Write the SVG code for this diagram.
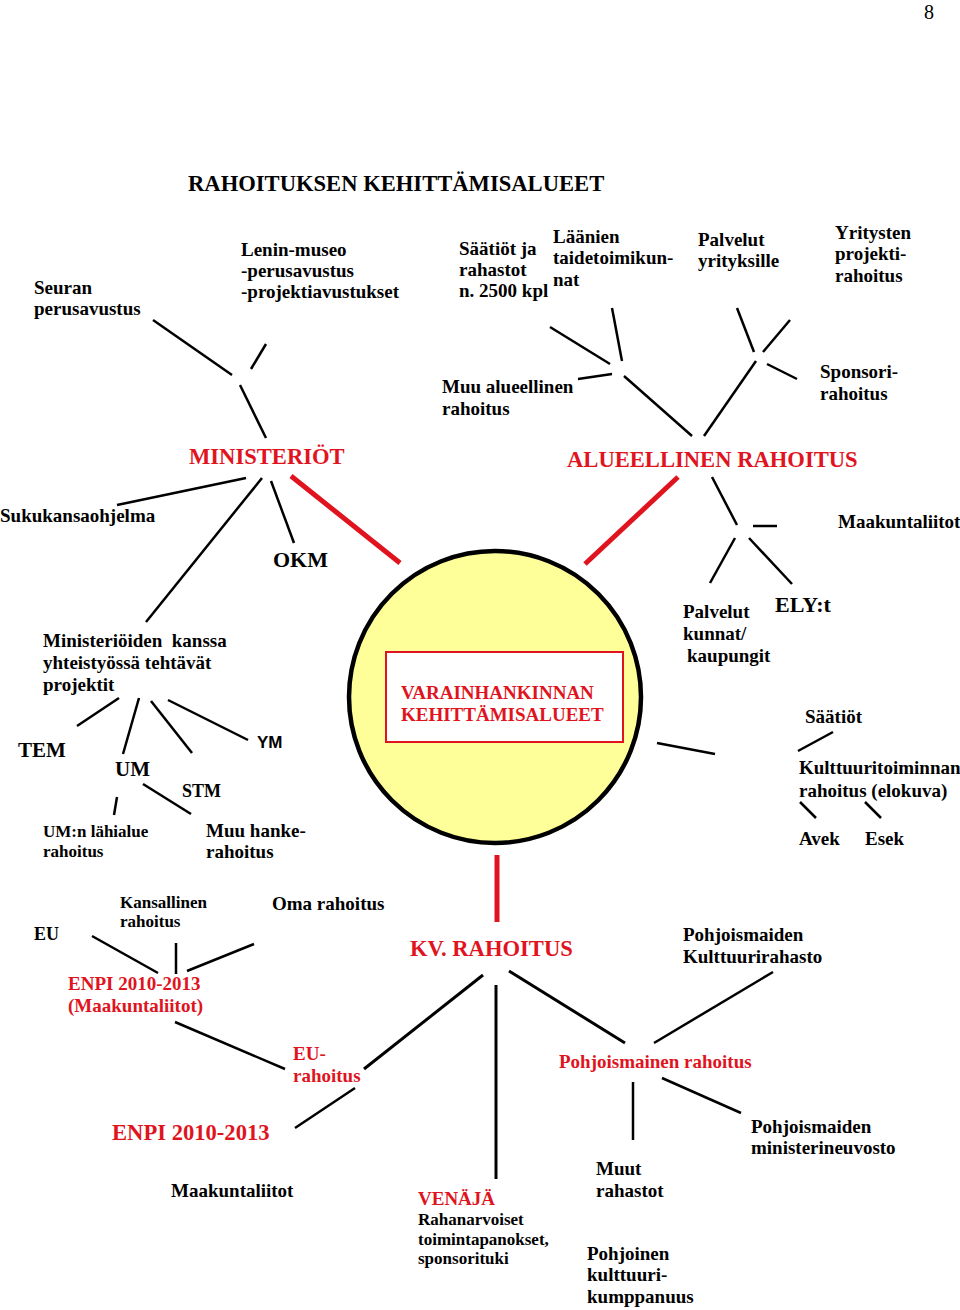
<svg xmlns="http://www.w3.org/2000/svg" width="960" height="1310" viewBox="0 0 960 1310">
<style>
text{font-family:"Liberation Serif","Times New Roman",serif;font-weight:bold;font-size:19px;fill:#000}
.red{fill:#e0141e}
.h{font-size:22.6px}
.s17{font-size:17px}
.s18{font-size:18px}
.s21{font-size:21px}
.s22{font-size:22px}
.sans{font-family:"Liberation Sans",Arial,sans-serif;font-size:17px}
.num{font-weight:normal;font-size:20px}
.ln{stroke:#000;stroke-width:2.5;fill:none}
.lk{stroke:#000;stroke-width:3;fill:none}
.rl{stroke:#e0141e;stroke-width:5;fill:none}
</style>
<rect width="960" height="1310" fill="#fff"/>
<text class="num" x="924" y="19">8</text>
<text id="title" class="h" x="188" y="191">RAHOITUKSEN KEHITTÄMISALUEET</text>

<g id="connectors">
  <line class="ln" x1="153" y1="320" x2="232" y2="375"/>
  <line class="ln" x1="266" y1="344" x2="251" y2="369"/>
  <line class="ln" x1="240" y1="385" x2="266" y2="438"/>
  <line class="ln" x1="117" y1="505" x2="246" y2="478"/>
  <line class="ln" x1="262" y1="478" x2="146" y2="622"/>
  <line class="ln" x1="271" y1="481" x2="294" y2="543"/>
  <line class="rl" x1="291" y1="476" x2="400" y2="563"/>
  <line class="ln" x1="550" y1="327" x2="610" y2="364"/>
  <line class="ln" x1="612" y1="308" x2="622" y2="361"/>
  <line class="ln" x1="578" y1="379" x2="612" y2="374"/>
  <line class="ln" x1="624" y1="376" x2="692" y2="436"/>
  <line class="ln" x1="737" y1="308" x2="754" y2="352"/>
  <line class="ln" x1="790" y1="320" x2="763" y2="352"/>
  <line class="ln" x1="767" y1="364" x2="797" y2="379"/>
  <line class="ln" x1="756" y1="361" x2="704" y2="436"/>
  <line class="rl" x1="678" y1="477" x2="585" y2="564"/>
  <line class="ln" x1="712" y1="477" x2="737" y2="525"/>
  <line class="ln" x1="753" y1="526" x2="777" y2="526"/>
  <line class="ln" x1="735" y1="538" x2="710" y2="583"/>
  <line class="ln" x1="749" y1="538" x2="792" y2="584"/>
  <line class="ln" x1="119" y1="698" x2="77" y2="726"/>
  <line class="ln" x1="139" y1="698" x2="123" y2="754"/>
  <line class="ln" x1="151" y1="701" x2="192" y2="753"/>
  <line class="ln" x1="168" y1="700" x2="248" y2="740"/>
  <line class="ln" x1="117" y1="797" x2="114" y2="815"/>
  <line class="ln" x1="143" y1="784" x2="191" y2="814"/>
  <line class="ln" x1="657" y1="743" x2="715" y2="754"/>
  <line class="ln" x1="833" y1="732" x2="798" y2="751"/>
  <line class="ln" x1="800" y1="802" x2="816" y2="818"/>
  <line class="ln" x1="865" y1="802" x2="881" y2="818"/>
  <line class="rl" x1="497" y1="855" x2="497" y2="922"/>
  <line class="ln" x1="92" y1="936" x2="158" y2="973"/>
  <line class="ln" x1="176" y1="943" x2="176" y2="974"/>
  <line class="ln" x1="254" y1="944" x2="187" y2="971"/>
  <line class="ln" x1="175" y1="1022" x2="285" y2="1069"/>
  <line class="lk" x1="364" y1="1069" x2="483" y2="975"/>
  <line class="ln" x1="355" y1="1088" x2="295" y2="1128"/>
  <line class="lk" x1="496" y1="985" x2="496" y2="1179"/>
  <line class="lk" x1="509" y1="971" x2="625" y2="1043"/>
  <line class="ln" x1="773" y1="972" x2="654" y2="1043"/>
  <line class="ln" x1="633" y1="1082" x2="633" y2="1140"/>
  <line class="ln" x1="662" y1="1078" x2="741" y2="1113"/>
</g>

<g id="center">
  <circle cx="495" cy="697" r="146" fill="#ffff99" stroke="#000" stroke-width="4.5"/>
  <rect x="386" y="652" width="237" height="90" fill="#fff" stroke="#e0141e" stroke-width="2"/>
  <text class="red" x="401" y="699">VARAINHANKINNAN</text>
  <text class="red" x="401" y="721">KEHITTÄMISALUEET</text>
</g>

<g id="seuran"><text x="34" y="294">Seuran</text><text x="34" y="315">perusavustus</text></g>
<g id="lenin"><text x="241" y="256">Lenin-museo</text><text x="241" y="277">-perusavustus</text><text x="241" y="298">-projektiavustukset</text></g>
<g id="saatiot-rahastot"><text x="459" y="255">Säätiöt ja</text><text x="459" y="276">rahastot</text><text x="459" y="297">n. 2500 kpl</text></g>
<g id="laanien"><text x="553" y="243">Läänien</text><text x="553" y="264">taidetoimikun-</text><text x="553" y="286">nat</text></g>
<g id="palvelut-yrityksille"><text x="698" y="246">Palvelut</text><text x="698" y="267">yrityksille</text></g>
<g id="yritysten"><text x="835" y="239">Yritysten</text><text x="835" y="260">projekti-</text><text x="835" y="282">rahoitus</text></g>
<g id="muu-alueellinen"><text x="442" y="393">Muu alueellinen</text><text x="442" y="415">rahoitus</text></g>
<g id="sponsori"><text x="820" y="378">Sponsori-</text><text x="820" y="400">rahoitus</text></g>
<g id="ministeriot"><text class="red h" x="189" y="464">MINISTERIÖT</text></g>
<g id="alueellinen"><text class="red h" x="567" y="467">ALUEELLINEN RAHOITUS</text></g>
<g id="sukukansa"><text x="0" y="522">Sukukansaohjelma</text></g>
<g id="maakuntaliitot-top"><text x="838" y="528">Maakuntaliitot</text></g>
<g id="okm"><text class="s22" x="273" y="567">OKM</text></g>
<g id="yhteistyo"><text x="43" y="647" xml:space="preserve">Ministeriöiden  kanssa</text><text x="43" y="669">yhteistyössä tehtävät</text><text x="43" y="691">projektit</text></g>
<g id="tem"><text class="s21" x="18" y="757">TEM</text></g>
<g id="um"><text class="s21" x="115" y="776">UM</text></g>
<g id="stm"><text class="s18" x="182" y="797">STM</text></g>
<g id="ym"><text class="sans" x="257" y="748">YM</text></g>
<g id="um-lahialue"><text class="s17" x="43" y="837">UM:n lähialue</text><text class="s17" x="43" y="857">rahoitus</text></g>
<g id="muu-hanke"><text x="206" y="837">Muu hanke-</text><text x="206" y="858">rahoitus</text></g>
<g id="palvelut-kunnat"><text x="683" y="618">Palvelut</text><text x="683" y="640">kunnat/</text><text x="687" y="662">kaupungit</text></g>
<g id="ely"><text class="s22" x="775" y="612">ELY:t</text></g>
<g id="saatiot"><text x="805" y="723">Säätiöt</text></g>
<g id="kulttuuritoiminnan"><text x="799" y="774">Kulttuuritoiminnan</text><text x="799" y="797">rahoitus (elokuva)</text></g>
<g id="avek"><text x="799" y="845">Avek</text></g>
<g id="esek"><text x="865" y="845">Esek</text></g>
<g id="eu"><text class="s18" x="34" y="940">EU</text></g>
<g id="kansallinen"><text class="s17" x="120" y="908">Kansallinen</text><text class="s17" x="120" y="927">rahoitus</text></g>
<g id="oma"><text x="272" y="910">Oma rahoitus</text></g>
<g id="enpi-maak"><text class="red" x="68" y="990">ENPI 2010-2013</text><text class="red" x="68" y="1012">(Maakuntaliitot)</text></g>
<g id="kv"><text class="red h" x="410" y="956">KV. RAHOITUS</text></g>
<g id="pohj-kulttuurirahasto"><text x="683" y="941">Pohjoismaiden</text><text x="683" y="963">Kulttuurirahasto</text></g>
<g id="eu-rahoitus"><text class="red" x="293" y="1060">EU-</text><text class="red" x="293" y="1082">rahoitus</text></g>
<g id="pohjoismainen"><text class="red" x="559" y="1068">Pohjoismainen rahoitus</text></g>
<g id="enpi"><text class="red h" x="112" y="1140">ENPI 2010-2013</text></g>
<g id="maakuntaliitot-bottom"><text x="171" y="1197">Maakuntaliitot</text></g>
<g id="venaja"><text class="red" x="418" y="1205">VENÄJÄ</text><text class="s17" x="418" y="1225">Rahanarvoiset</text><text class="s17" x="418" y="1245">toimintapanokset,</text><text class="s17" x="418" y="1264">sponsorituki</text></g>
<g id="muut-rahastot"><text x="596" y="1175">Muut</text><text x="596" y="1197">rahastot</text></g>
<g id="ministerineuvosto"><text x="751" y="1133">Pohjoismaiden</text><text x="751" y="1154">ministerineuvosto</text></g>
<g id="pohjoinen"><text x="587" y="1260">Pohjoinen</text><text x="587" y="1281">kulttuuri-</text><text x="587" y="1303">kumppanuus</text></g>
</svg>
